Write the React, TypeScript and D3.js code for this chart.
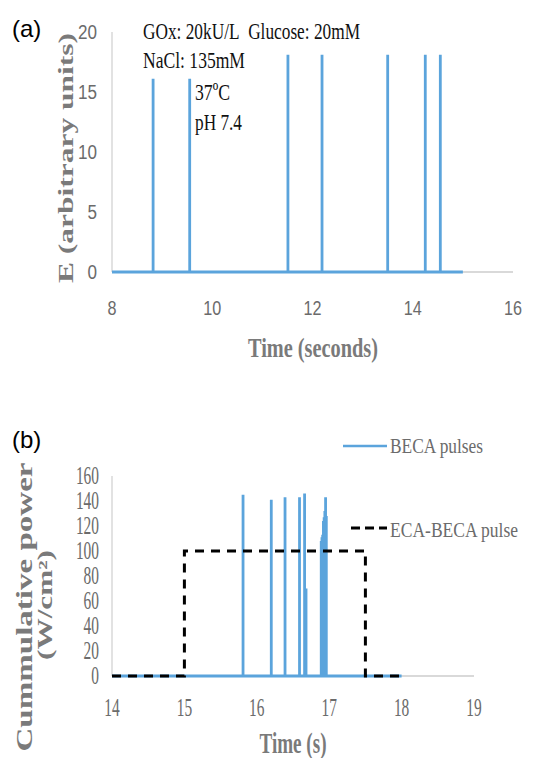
import React from "react";
import * as d3 from "d3";

// ---------- Panel (a) data ----------
const aTicksX = [8, 10, 12, 14, 16];
const aTicksY = [0, 5, 10, 15, 20];
const aSpikeTimes = [8.82, 9.55, 11.51, 12.19, 13.5, 14.25, 14.55];
const aSpikeValues = [16.1, 16.1, 18.1, 18.1, 18.1, 18.1, 18.1];
const aLineStart = 8;
const aLineEnd = 15;

// ---------- Panel (b) data ----------
const bTicksX = [14, 15, 16, 17, 18, 19];
const bTicksY = [0, 20, 40, 60, 80, 100, 120, 140, 160];
const bSpikeTimes = [15.81, 16.2, 16.39, 16.59, 16.66, 16.68, 16.89, 16.9, 16.91, 16.92, 16.93, 16.94, 16.95, 16.96];
const bSpikeValues = [145, 141, 143, 143, 146, 70, 108, 111, 113, 124, 127, 132, 143, 128];
const bLineStart = 14;
const bLineEnd = 18;
const ecaTimes = [14, 15, 15, 17.5, 17.5, 18];
const ecaValues = [0, 0, 100, 100, 0, 0];

const BLUE = "#5BA4DC";
const AXIS = "#D9D9D9";
const TICK = "#6b6b6b";
const TITLE = "#7a7a7a";
const SERIF = "'Liberation Serif', 'DejaVu Serif', serif";
const SANS = "'Liberation Sans', Arial, sans-serif";

function spikePoints(times: number[], values: number[], start: number, end: number): [number, number][] {
  const pts: [number, number][] = [[start, 0]];
  times.forEach((t, i) => {
    pts.push([t, 0], [t, values[i]], [t, 0]);
  });
  pts.push([end, 0]);
  return pts;
}

export default function App() {
  const xa = d3.scaleLinear().domain([8, 16]).range([112, 513]);
  const ya = d3.scaleLinear().domain([0, 20]).range([272, 32]);
  const xb = d3.scaleLinear().domain([14, 19]).range([112, 474]);
  const yb = d3.scaleLinear().domain([0, 160]).range([676, 476]);

  const lineA = d3.line<[number, number]>().x((d) => xa(d[0])).y((d) => ya(d[1]));
  const lineB = d3.line<[number, number]>().x((d) => xb(d[0])).y((d) => yb(d[1]));

  const aPath = lineA(spikePoints(aSpikeTimes, aSpikeValues, aLineStart, aLineEnd)) || "";
  const bPath = lineB(spikePoints(bSpikeTimes, bSpikeValues, bLineStart, bLineEnd)) || "";
  const ecaPath = lineB(ecaTimes.map((t, i) => [t, ecaValues[i]] as [number, number])) || "";

  return (
    <svg
      width={547}
      height={758}
      style={{ position: "absolute", left: 0, top: 0, background: "#fff" }}
    >
      {/* ================= Panel (a) ================= */}
      <text x={12} y={37} fontFamily={SANS} fontSize={24} fill="#000">(a)</text>

      {/* axes */}
      <line x1={xa(8)} x2={xa(8)} y1={ya(20)} y2={ya(0)} stroke={AXIS} strokeWidth={1.5} />
      <line x1={xa(8)} x2={xa(16)} y1={ya(0)} y2={ya(0)} stroke={AXIS} strokeWidth={2} />

      {/* y ticks */}
      {aTicksY.map((v) => (
        <text
          key={"ay" + v}
          x={97}
          y={ya(v) + 7}
          textAnchor="end"
          fontFamily={SANS}
          fontSize={20}
          fill={TICK}
          textLength={String(v).length * 9.5}
          lengthAdjust="spacingAndGlyphs"
        >
          {v}
        </text>
      ))}
      {/* x ticks */}
      {aTicksX.map((v) => (
        <text
          key={"ax" + v}
          x={xa(v)}
          y={315}
          textAnchor="middle"
          fontFamily={SANS}
          fontSize={20}
          fill={TICK}
          textLength={String(v).length * 9}
          lengthAdjust="spacingAndGlyphs"
        >
          {v}
        </text>
      ))}

      {/* series */}
      <path d={aPath} fill="none" stroke={BLUE} strokeWidth={2.8} />

      {/* titles */}
      <text
        x={313}
        y={357}
        textAnchor="middle"
        fontFamily={SERIF}
        fontWeight="bold"
        fontSize={28}
        fill={TITLE}
        textLength={130}
        lengthAdjust="spacingAndGlyphs"
      >
        Time (seconds)
      </text>
      <text
        transform="translate(65,158) rotate(-90)"
        textAnchor="middle"
        dominantBaseline="central"
        fontFamily={SERIF}
        fontWeight="bold"
        fontSize={22}
        fill={TITLE}
        textLength={250}
        lengthAdjust="spacingAndGlyphs"
      >
        E (arbitrary units)
      </text>

      {/* annotations */}
      <g fontFamily={SERIF} fontSize={24} fill="#111">
        <text x={143} y={39} textLength={217} lengthAdjust="spacingAndGlyphs">
          {"GOx: 20kU/L\u00A0\u00A0Glucose: 20mM"}
        </text>
        <text x={143} y={68} textLength={102} lengthAdjust="spacingAndGlyphs">
          NaCl: 135mM
        </text>
        <text x={195} y={100} textLength={35} lengthAdjust="spacingAndGlyphs">
          37ºC
        </text>
        <text x={195} y={130} textLength={47} lengthAdjust="spacingAndGlyphs">
          pH 7.4
        </text>
      </g>

      {/* ================= Panel (b) ================= */}
      <text x={12} y={448} fontFamily={SANS} fontSize={24} fill="#000">(b)</text>

      <line x1={xb(14)} x2={xb(14)} y1={yb(160)} y2={yb(0)} stroke={AXIS} strokeWidth={1.5} />
      <line x1={xb(14)} x2={xb(19)} y1={yb(0)} y2={yb(0)} stroke={AXIS} strokeWidth={2} />

      {bTicksY.map((v) => (
        <text
          key={"by" + v}
          x={99}
          y={yb(v) + 8}
          textAnchor="end"
          fontFamily={SERIF}
          fontSize={25}
          fill={TICK}
          textLength={String(v).length * 7.7}
          lengthAdjust="spacingAndGlyphs"
        >
          {v}
        </text>
      ))}
      {bTicksX.map((v) => (
        <text
          key={"bx" + v}
          x={xb(v)}
          y={716}
          textAnchor="middle"
          fontFamily={SERIF}
          fontSize={25}
          fill={TICK}
          textLength={String(v).length * 7.7}
          lengthAdjust="spacingAndGlyphs"
        >
          {v}
        </text>
      ))}

      <path d={bPath} fill="none" stroke={BLUE} strokeWidth={2.8} />
      <path d={ecaPath} fill="none" stroke="#000" strokeWidth={3} strokeDasharray="9,7" />

      {/* legend */}
      <line x1={343} x2={387} y1={446} y2={446} stroke={BLUE} strokeWidth={2.5} />
      <text
        x={390}
        y={453}
        fontFamily={SERIF}
        fontSize={21}
        fill={TICK}
        textLength={93}
        lengthAdjust="spacingAndGlyphs"
      >
        BECA pulses
      </text>
      <line x1={351} x2={387} y1={528} y2={528} stroke="#000" strokeWidth={3} strokeDasharray="9,5" />
      <text
        x={390}
        y={537}
        fontFamily={SERIF}
        fontSize={21}
        fill={TICK}
        textLength={128}
        lengthAdjust="spacingAndGlyphs"
      >
        ECA-BECA pulse
      </text>

      {/* titles */}
      <text
        x={293}
        y={753}
        textAnchor="middle"
        fontFamily={SERIF}
        fontWeight="bold"
        fontSize={29}
        fill={TITLE}
        textLength={67}
        lengthAdjust="spacingAndGlyphs"
      >
        Time (s)
      </text>
      <text
        transform="translate(24,607) rotate(-90)"
        textAnchor="middle"
        dominantBaseline="central"
        fontFamily={SERIF}
        fontWeight="bold"
        fontSize={23}
        fill={TITLE}
        textLength={289}
        lengthAdjust="spacingAndGlyphs"
      >
        Cummulative power
      </text>
      <text
        transform="translate(45,605) rotate(-90)"
        textAnchor="middle"
        dominantBaseline="central"
        fontFamily={SERIF}
        fontWeight="bold"
        fontSize={20}
        fill={TITLE}
        textLength={110}
        lengthAdjust="spacingAndGlyphs"
      >
        (W/cm²)
      </text>
    </svg>
  );
}
